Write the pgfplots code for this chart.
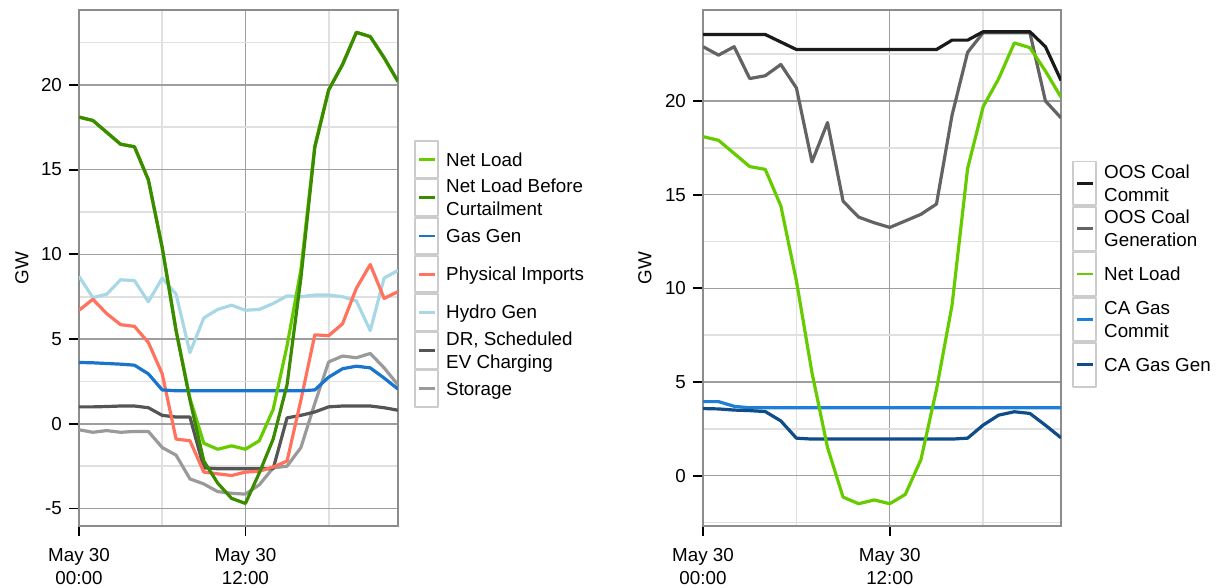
\documentclass[border=0pt]{standalone}
\usepackage{fontspec}
\setmainfont{Liberation Sans}
\usepackage{pgfplots}
\usepackage{pgfplotstable}
\pgfplotsset{compat=1.18}

\definecolor{cNet}{HTML}{66CC00}
\definecolor{cNLBC}{HTML}{3B8B00}
\definecolor{cGas}{HTML}{1874CD}
\definecolor{cImp}{HTML}{FF735E}
\definecolor{cHydro}{HTML}{A8D8E6}
\definecolor{cDR}{HTML}{555555}
\definecolor{cSto}{HTML}{9A9A9A}
\definecolor{cCommit}{HTML}{1A1A1A}
\definecolor{cGen}{HTML}{636363}
\definecolor{cCAc}{HTML}{1E7FD6}
\definecolor{cCAg}{HTML}{0F4C8A}

\newcommand{\fs}{\fontsize{9.4}{11.5}\selectfont}
\newcommand{\lone}[1]{\smash{\raisebox{-4pt}{#1}}}
\newcommand{\ltwo}[2]{\smash{\raisebox{-9.8pt}{\begin{tabular}[b]{@{}l@{}}#1\\#2\end{tabular}}}}

\pgfplotstableread{
h netload nlbc gas imports hydro dr storage
0 18.1 18.1 3.62 6.7 8.7 1.0 -0.35
1 17.9 17.9 3.6 7.35 7.45 1.0 -0.5
2 17.2 17.2 3.56 6.5 7.65 1.02 -0.4
3 16.5 16.5 3.52 5.85 8.5 1.05 -0.5
4 16.35 16.35 3.46 5.75 8.45 1.05 -0.45
5 14.4 14.4 2.95 4.8 7.2 0.95 -0.45
6 10.4 10.4 2.0 2.95 8.6 0.5 -1.4
7 5.5 5.5 1.95 -0.9 7.65 0.4 -1.85
8 1.5 1.4 1.95 -1.0 4.2 0.4 -3.25
9 -1.15 -2.2 1.95 -2.85 6.25 -2.6 -3.55
10 -1.5 -3.5 1.95 -2.95 6.75 -2.65 -4.0
11 -1.3 -4.4 1.95 -3.05 7.0 -2.65 -4.1
12 -1.5 -4.7 1.95 -2.85 6.7 -2.65 -4.15
13 -1.0 -2.9 1.95 -2.8 6.75 -2.65 -3.6
14 0.85 -0.9 1.95 -2.55 7.1 -2.65 -2.6
15 4.6 2.3 1.95 -2.2 7.55 0.35 -2.5
16 9.1 8.6 1.95 1.4 7.5 0.5 -1.4
17 16.4 16.3 2.0 5.25 7.6 0.7 1.2
18 19.7 19.7 2.75 5.2 7.6 1.0 3.65
19 21.2 21.2 3.25 5.9 7.5 1.05 4.0
20 23.1 23.1 3.4 8.0 7.25 1.05 3.9
21 22.85 22.85 3.3 9.4 5.5 1.05 4.15
22 21.6 21.6 2.7 7.4 8.6 0.95 3.3
23 20.2 20.2 2.05 7.8 9.05 0.8 2.3
}\lefttab

\pgfplotstableread{
h commit gen netload cacommit cagen
0 23.55 22.9 18.1 3.95 3.58
1 23.55 22.45 17.9 3.95 3.56
2 23.55 22.9 17.2 3.7 3.5
3 23.55 21.2 16.5 3.62 3.47
4 23.55 21.35 16.35 3.62 3.42
5 23.15 21.95 14.4 3.62 2.92
6 22.75 20.7 10.4 3.62 2.0
7 22.75 16.75 5.5 3.62 1.95
8 22.75 18.85 1.5 3.62 1.95
9 22.75 14.65 -1.15 3.62 1.95
10 22.75 13.8 -1.5 3.62 1.95
11 22.75 13.5 -1.3 3.62 1.95
12 22.75 13.25 -1.5 3.62 1.95
13 22.75 13.6 -1.0 3.62 1.95
14 22.75 13.95 0.85 3.62 1.95
15 22.75 14.5 4.6 3.62 1.95
16 23.25 19.25 9.1 3.62 1.95
17 23.25 22.6 16.4 3.62 2.0
18 23.7 23.65 19.7 3.62 2.7
19 23.7 23.65 21.2 3.62 3.23
20 23.7 23.65 23.1 3.62 3.41
21 23.7 23.65 22.85 3.62 3.32
22 22.9 20.0 21.6 3.62 2.69
23 21.1 19.1 20.2 3.62 2.02
}\righttab

\pgfplotsset{
  panel/.style={
    scale only axis, anchor=south west,
    xmin=0, xmax=23,
    xtick={0,12}, minor xtick={6,18},
    xticklabels={{May 30\\00:00},{May 30\\12:00}},
    xticklabel style={align=center, font=\fs, text=black, yshift=-2.5pt},
    yticklabel style={font=\fs, text=black},
    xtick pos=bottom, ytick pos=left,
    tick align=outside, major tick length=5pt, minor tick length=0pt,
    major tick style={black, line width=0.9pt},
    axis line style={black!45, line width=0.7pt},
    grid=both,
    major grid style={black!38, line width=0.7pt},
    minor grid style={black!12, line width=0.9pt},
    ylabel={GW}, ylabel style={font=\fs, anchor=center},
    every axis plot/.append style={line width=1.6pt, line join=round},
    legend cell align=left,
    legend style={draw=none, fill=none, inner sep=0pt, row sep=0pt, column sep=3.5pt,
      anchor=north west, nodes={inner sep=0pt, outer sep=0pt, font=\fs}},
  }
}

\begin{document}
\begin{tikzpicture}
\useasboundingbox (0,0) rectangle (612.5pt,294pt);

\begin{axis}[panel,
  at={(39.5pt,31pt)}, width=159.5pt, height=258pt,
  ymin=-6.03, ymax=24.42,
  ytick={-5,0,5,10,15,20}, yticklabels={-5,0,5,10,15,20},
  minor ytick={-2.5,2.5,7.5,12.5,17.5,22.5},
  ylabel style={at={(axis description cs:-0.179,0.5)}},
  legend style={at={(axis description cs:1.0502,0.748)}},
  legend image code/.code={
    \draw[black!20, line width=0.9pt, fill=white] (0pt,-9.1pt) rectangle (11.5pt,9.1pt);
    \draw[#1, line width=1.4pt, line cap=butt] (1.75pt,0pt) -- (9.75pt,0pt);
  },
]
\addplot[cSto, forget plot] table[x=h, y=storage] {\lefttab};
\addplot[cDR, forget plot] table[x=h, y=dr] {\lefttab};
\addplot[cHydro, forget plot] table[x=h, y=hydro] {\lefttab};
\addplot[cImp, forget plot] table[x=h, y=imports] {\lefttab};
\addplot[cGas, forget plot] table[x=h, y=gas] {\lefttab};
\addplot[cNet, forget plot] table[x=h, y=netload] {\lefttab};
\addplot[cNLBC, forget plot] table[x=h, y=nlbc] {\lefttab};
\addlegendimage{cNet}\addlegendentry{\lone{Net Load}}
\addlegendimage{cNLBC}\addlegendentry{\ltwo{Net Load Before}{Curtailment}}
\addlegendimage{cGas}\addlegendentry{\lone{Gas Gen}}
\addlegendimage{cImp}\addlegendentry{\lone{Physical Imports}}
\addlegendimage{cHydro}\addlegendentry{\lone{Hydro Gen}}
\addlegendimage{cDR}\addlegendentry{\ltwo{DR, Scheduled}{EV Charging}}
\addlegendimage{cSto}\addlegendentry{\lone{Storage}}
\end{axis}

\begin{axis}[panel,
  at={(351.5pt,31pt)}, width=179pt, height=258pt,
  ymin=-2.69, ymax=24.86,
  ytick={0,5,10,15,20}, yticklabels={0,5,10,15,20},
  minor ytick={-2.5,2.5,7.5,12.5,17.5,22.5},
  ylabel style={at={(axis description cs:-0.162,0.5)}},
  legend style={at={(axis description cs:1.0307,0.709)}},
  legend image code/.code={
    \draw[black!20, line width=0.9pt, fill=white] (0pt,-10.9pt) rectangle (11.5pt,10.9pt);
    \draw[#1, line width=1.4pt, line cap=butt] (1.75pt,0pt) -- (9.75pt,0pt);
  },
]
\addplot[cCAc, forget plot] table[x=h, y=cacommit] {\righttab};
\addplot[cCAg, forget plot] table[x=h, y=cagen] {\righttab};
\addplot[cGen, forget plot] table[x=h, y=gen] {\righttab};
\addplot[cCommit, forget plot] table[x=h, y=commit] {\righttab};
\addplot[cNet, forget plot] table[x=h, y=netload] {\righttab};
\addlegendimage{cCommit}\addlegendentry{\ltwo{OOS Coal}{Commit}}
\addlegendimage{cGen}\addlegendentry{\ltwo{OOS Coal}{Generation}}
\addlegendimage{cNet}\addlegendentry{\lone{Net Load}}
\addlegendimage{cCAc}\addlegendentry{\ltwo{CA Gas}{Commit}}
\addlegendimage{cCAg}\addlegendentry{\lone{CA Gas Gen}}
\end{axis}
\end{tikzpicture}
\end{document}
